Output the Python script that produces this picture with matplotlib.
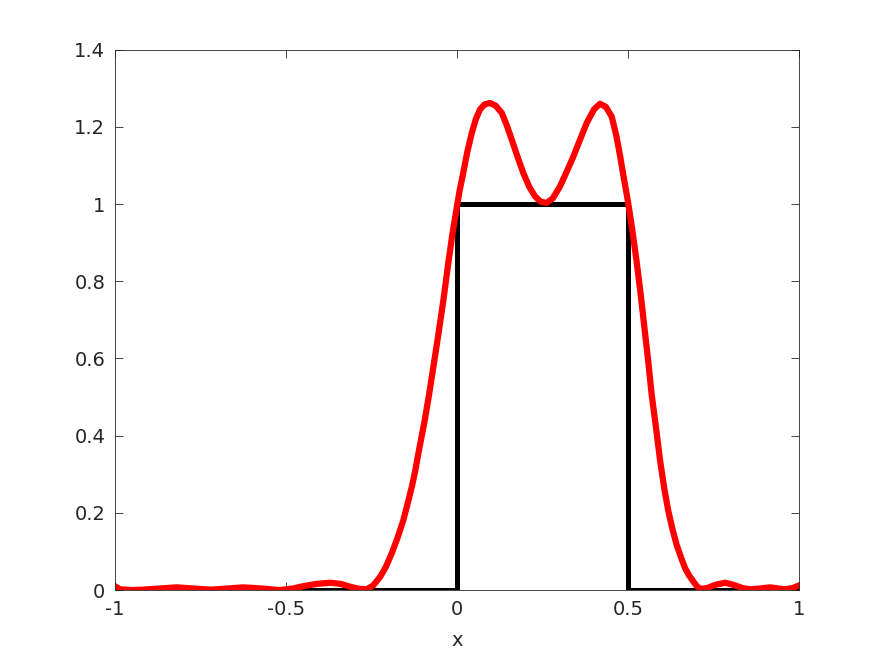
import numpy as np
import matplotlib.pyplot as plt

# box function
box_x = [-1, 0, 0, 0.5, 0.5, 1]
box_y = [0, 0, 1, 1, 0, 0]

# smooth approximation, values
approx_x = [-1.0, -0.985, -0.95, -0.92, -0.87, -0.82, -0.77, -0.72, -0.67, -0.625,
            -0.57, -0.52, -0.48, -0.45, -0.41, -0.371, -0.34, -0.31, -0.285, -0.264,
            -0.245, -0.225, -0.208, -0.191, -0.174, -0.157, -0.145, -0.132, -0.122,
            -0.113, -0.095, -0.082, -0.069, -0.055, -0.040, -0.025, -0.013, -0.001,
            0.008, 0.018, 0.030, 0.043, 0.055, 0.067, 0.080, 0.096, 0.113, 0.131,
            0.145, 0.160, 0.177, 0.194, 0.211, 0.228, 0.245, 0.262, 0.280, 0.301,
            0.320, 0.340, 0.360, 0.379, 0.400, 0.418, 0.435, 0.452, 0.465, 0.477,
            0.488, 0.499, 0.512, 0.525, 0.537, 0.548, 0.559, 0.569, 0.582, 0.594,
            0.606, 0.618, 0.630, 0.642, 0.655, 0.667, 0.679, 0.691, 0.701, 0.711,
            0.73, 0.757, 0.784, 0.81, 0.835, 0.857, 0.885, 0.915, 0.94, 0.959,
            0.98, 1.0]
approx_y = [0.010, 0.002, 0.000, 0.001, 0.004, 0.007, 0.004, 0.001, 0.004, 0.007,
            0.004, 0.000, 0.004, 0.010, 0.016, 0.019, 0.016, 0.008, 0.003, 0.002,
            0.012, 0.034, 0.060, 0.095, 0.135, 0.181, 0.222, 0.268, 0.310,
            0.354, 0.437, 0.505, 0.579, 0.660, 0.750, 0.851, 0.925, 0.990,
            1.037, 1.080, 1.135, 1.184, 1.220, 1.245, 1.258, 1.262, 1.255, 1.236,
            1.205, 1.167, 1.122, 1.080, 1.045, 1.020, 1.006, 1.003, 1.015, 1.046,
            1.083, 1.123, 1.168, 1.210, 1.245, 1.260, 1.252, 1.227, 1.180, 1.123,
            1.065, 1.010, 0.935, 0.851, 0.765, 0.678, 0.592, 0.506, 0.418, 0.333,
            0.262, 0.203, 0.157, 0.117, 0.084, 0.056, 0.037, 0.022, 0.010, 0.003,
            0.005, 0.014, 0.019, 0.013, 0.005, 0.002, 0.004, 0.007, 0.004, 0.002,
            0.005, 0.012]

xticks = [-1, -0.5, 0, 0.5, 1]
xticklabels = ['-1', '-0.5', '0', '0.5', '1']
yticks = [0, 0.2, 0.4, 0.6, 0.8, 1, 1.2, 1.4]
yticklabels = ['0', '0.2', '0.4', '0.6', '0.8', '1', '1.2', '1.4']

fig = plt.figure(figsize=(8.84, 6.63), dpi=100)
ax = fig.add_axes([0.13, 0.11, 0.774, 0.815])

ax.plot(box_x, box_y, color='black', linewidth=3.6, solid_joinstyle='miter')
ax.plot(approx_x, approx_y, color='red', linewidth=4.5, solid_joinstyle='round')

ax.set_xlim(-1, 1)
ax.set_ylim(0, 1.4)
ax.set_xticks(xticks)
ax.set_xticklabels(xticklabels)
ax.set_yticks(yticks)
ax.set_yticklabels(yticklabels)
ax.tick_params(direction='in', top=True, right=True, length=6, width=0.6,
               colors='#262626', labelsize=14, pad=7)
for s in ax.spines.values():
    s.set_color('#262626')
    s.set_linewidth(0.6)
ax.set_xlabel('x', fontsize=14, color='#262626', labelpad=9)

fig.savefig('out.png', dpi=100)
